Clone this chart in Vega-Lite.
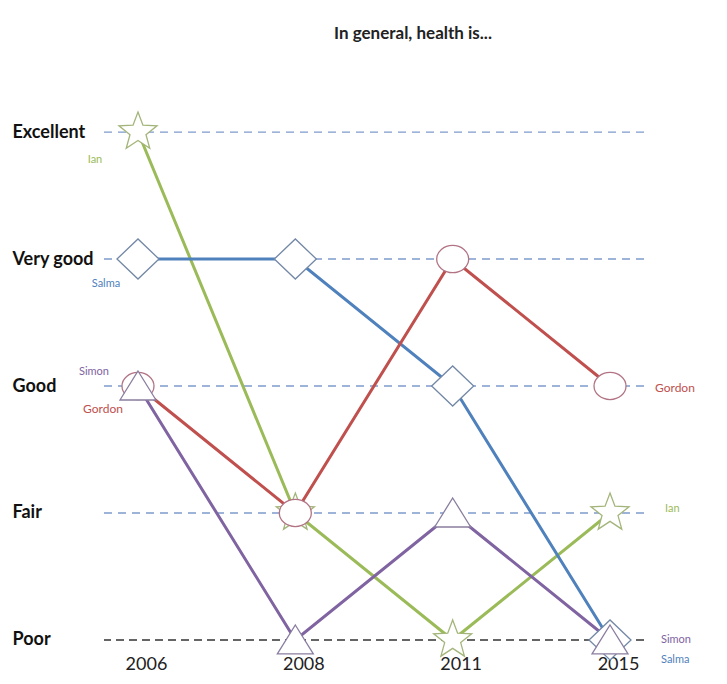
{
  "$schema": "https://vega.github.io/schema/vega-lite/v6.json",
  "width": 540,
  "height": 528,
  "autosize": {"type": "none"},
  "padding": {"left": 104, "top": 122, "right": 83, "bottom": 34},
  "background": "white",
  "title": {
    "text": "In general, health is...",
    "font": "Lato",
    "fontSize": 17,
    "fontWeight": "bold",
    "color": "#222222",
    "anchor": "middle",
    "baseline": "alphabetic",
    "dx": 39,
    "offset": 53
  },
  "config": {"view": {"stroke": null}},
  "data": {
    "values": [
      {"name": "Ian", "year": "2006", "health": "Excellent"},
      {"name": "Ian", "year": "2008", "health": "Fair"},
      {"name": "Ian", "year": "2011", "health": "Poor"},
      {"name": "Ian", "year": "2015", "health": "Fair"},
      {"name": "Salma", "year": "2006", "health": "Very good"},
      {"name": "Salma", "year": "2008", "health": "Very good"},
      {"name": "Salma", "year": "2011", "health": "Good"},
      {"name": "Salma", "year": "2015", "health": "Poor"},
      {"name": "Gordon", "year": "2006", "health": "Good"},
      {"name": "Gordon", "year": "2008", "health": "Fair"},
      {"name": "Gordon", "year": "2011", "health": "Very good"},
      {"name": "Gordon", "year": "2015", "health": "Good"},
      {"name": "Simon", "year": "2006", "health": "Good"},
      {"name": "Simon", "year": "2008", "health": "Poor"},
      {"name": "Simon", "year": "2011", "health": "Fair"},
      {"name": "Simon", "year": "2015", "health": "Poor"}
    ]
  },
  "layer": [
    {
      "data": {"values": [{"health": "Excellent"}, {"health": "Very good"}, {"health": "Good"}, {"health": "Fair"}]},
      "mark": {"type": "rule", "stroke": "#7f9acb", "strokeWidth": 1.3, "strokeDash": [8, 6]},
      "encoding": {
        "y": {
          "field": "health",
          "type": "ordinal",
          "title": null,
          "scale": {"type": "point", "padding": 0.079, "domain": ["Excellent", "Very good", "Good", "Fair", "Poor"]},
          "axis": {"orient": "left", "domain": false, "ticks": false, "grid": false, "labelFont": "Lato", "labelFontSize": 18, "labelFontWeight": "bold", "labelColor": "#111111", "labelAlign": "left", "labelPadding": 92}
        }
      }
    },
    {
      "data": {"values": [{"health": "Poor"}]},
      "mark": {"type": "rule", "stroke": "#333333", "strokeWidth": 1.5, "strokeDash": [8, 5]},
      "encoding": {
        "y": {"field": "health", "type": "ordinal"}
      }
    },
    {
      "mark": {"type": "line", "strokeWidth": 3},
      "encoding": {
        "x": {
          "field": "year",
          "type": "ordinal",
          "title": null,
          "scale": {"type": "point", "padding": 0.216, "domain": ["2006", "2008", "2011", "2015"]},
          "axis": {"orient": "bottom", "domain": false, "ticks": false, "grid": false, "labelAngle": 0, "labelFont": "Lato", "labelFontSize": 18, "labelColor": "#222222", "labelPadding": 5, "labelOffset": 8}
        },
        "y": {"field": "health", "type": "ordinal"},
        "color": {
          "field": "name",
          "type": "nominal",
          "legend": null,
          "scale": {"domain": ["Ian", "Salma", "Gordon", "Simon"], "range": ["#9bbb59", "#4f81bd", "#c0504d", "#8064a2"]}
        }
      }
    },
    {
      "mark": {"type": "point", "filled": false, "fill": "white", "fillOpacity": 1, "strokeWidth": 1.3, "opacity": 1, "size": 1600},
      "encoding": {
        "x": {"field": "year", "type": "ordinal"},
        "y": {"field": "health", "type": "ordinal"},
        "shape": {
          "field": "name",
          "type": "nominal",
          "legend": null,
          "scale": {
            "domain": ["Ian", "Salma", "Gordon", "Simon"],
            "range": [
              "M0,-1L0.247,-0.34L0.951,-0.309L0.4,0.13L0.588,0.809L0,0.42L-0.588,0.809L-0.4,0.13L-0.951,-0.309L-0.247,-0.34Z",
              "M-1.05,0L0,-1L1.05,0L0,1Z",
              "M-0.8,0A0.8,0.68 0 1,1 0.8,0A0.8,0.68 0 1,1 -0.8,0Z",
              "M0,-0.75L0.9,0.7L-0.9,0.7Z"
            ]
          }
        },
        "stroke": {
          "field": "name",
          "type": "nominal",
          "legend": null,
          "scale": {"domain": ["Ian", "Salma", "Gordon", "Simon"], "range": ["#a3b57a", "#7388a6", "#b27384", "#8a7ea0"]}
        }
      }
    },
    {
      "transform": [{"filter": "datum.name === 'Ian' && datum.year === '2006'"}],
      "mark": {"type": "text", "font": "Lato", "fontSize": 11, "dx": -43, "dy": 28},
      "encoding": {"x": {"field": "year", "type": "ordinal"}, "y": {"field": "health", "type": "ordinal"}, "text": {"field": "name"}, "color": {"field": "name", "type": "nominal"}}
    },
    {
      "transform": [{"filter": "datum.name === 'Salma' && datum.year === '2006'"}],
      "mark": {"type": "text", "font": "Lato", "fontSize": 11, "dx": -32, "dy": 25},
      "encoding": {"x": {"field": "year", "type": "ordinal"}, "y": {"field": "health", "type": "ordinal"}, "text": {"field": "name"}, "color": {"field": "name", "type": "nominal"}}
    },
    {
      "transform": [{"filter": "datum.name === 'Simon' && datum.year === '2006'"}],
      "mark": {"type": "text", "font": "Lato", "fontSize": 11, "dx": -44, "dy": -14},
      "encoding": {"x": {"field": "year", "type": "ordinal"}, "y": {"field": "health", "type": "ordinal"}, "text": {"field": "name"}, "color": {"field": "name", "type": "nominal"}}
    },
    {
      "transform": [{"filter": "datum.name === 'Gordon' && datum.year === '2006'"}],
      "mark": {"type": "text", "font": "Lato", "fontSize": 12, "dx": -35, "dy": 23},
      "encoding": {"x": {"field": "year", "type": "ordinal"}, "y": {"field": "health", "type": "ordinal"}, "text": {"field": "name"}, "color": {"field": "name", "type": "nominal"}}
    },
    {
      "transform": [{"filter": "datum.name === 'Gordon' && datum.year === '2015'"}],
      "mark": {"type": "text", "font": "Lato", "fontSize": 12, "align": "left", "dx": 45, "dy": 2},
      "encoding": {"x": {"field": "year", "type": "ordinal"}, "y": {"field": "health", "type": "ordinal"}, "text": {"field": "name"}, "color": {"field": "name", "type": "nominal"}}
    },
    {
      "transform": [{"filter": "datum.name === 'Ian' && datum.year === '2015'"}],
      "mark": {"type": "text", "font": "Lato", "fontSize": 11, "align": "left", "dx": 55, "dy": -4},
      "encoding": {"x": {"field": "year", "type": "ordinal"}, "y": {"field": "health", "type": "ordinal"}, "text": {"field": "name"}, "color": {"field": "name", "type": "nominal"}}
    },
    {
      "transform": [{"filter": "datum.name === 'Simon' && datum.year === '2015'"}],
      "mark": {"type": "text", "font": "Lato", "fontSize": 11, "align": "left", "dx": 51, "dy": 0},
      "encoding": {"x": {"field": "year", "type": "ordinal"}, "y": {"field": "health", "type": "ordinal"}, "text": {"field": "name"}, "color": {"field": "name", "type": "nominal"}}
    },
    {
      "transform": [{"filter": "datum.name === 'Salma' && datum.year === '2015'"}],
      "mark": {"type": "text", "font": "Lato", "fontSize": 11, "align": "left", "dx": 51, "dy": 20},
      "encoding": {"x": {"field": "year", "type": "ordinal"}, "y": {"field": "health", "type": "ordinal"}, "text": {"field": "name"}, "color": {"field": "name", "type": "nominal"}}
    }
  ]
}
